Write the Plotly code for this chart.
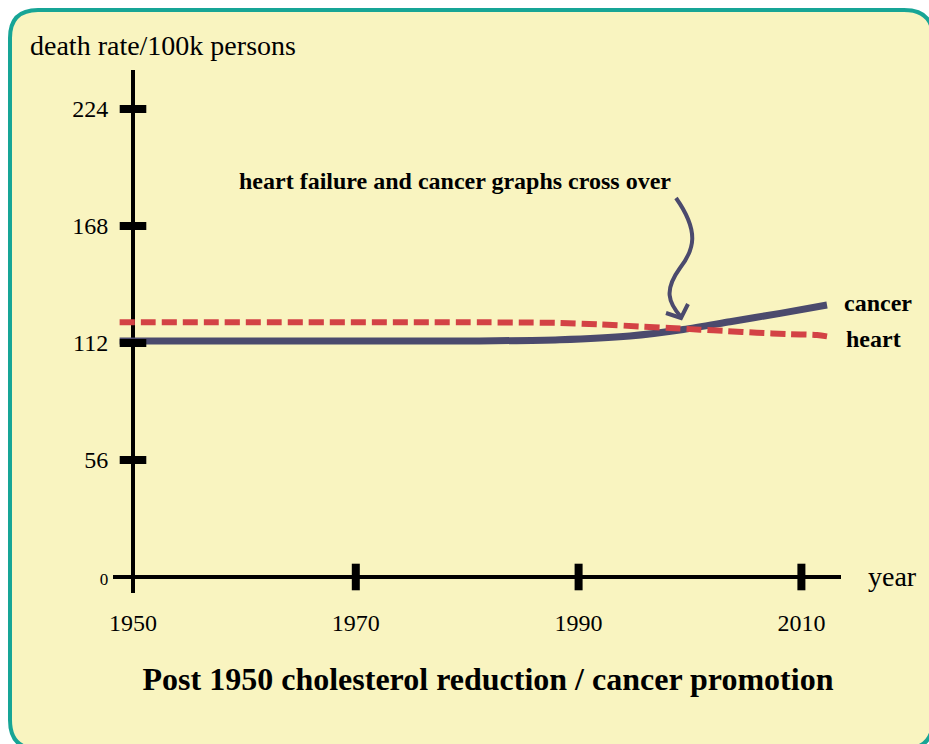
"""
Death rate per 100k persons since 1950: heart failure vs cancer.
"""

import plotly.graph_objects as go

W, H = 929, 744

# data
years_cancer = [1948.8, 1981.1, 1988.3, 1994.6, 1999.4, 2003.6, 2008.1, 2012.3]
cancer = [113.0, 113.0, 113.6, 115.4, 118.5, 122.2, 126.2, 130.2]

years_heart = [1948.8, 1981.1, 1988.3, 1991.9, 1995.5, 1998.2, 2000.9, 2003.3, 2006.0, 2008.7, 2011.4, 2012.5]
heart = [121.9, 121.9, 121.6, 120.9, 119.9, 119.2, 118.4, 117.7, 116.9, 116.3, 115.8, 115.0]

y_ticks = [0, 56, 112, 168, 224]
x_ticks = [1950, 1970, 1990, 2010]

INK = "#4b4a6d"
RED = "#d34245"
BG = "#f9f4c0"
TEAL = "#17a596"
SERIF = "Liberation Serif"

# scale of the drawing in pixels: 1950 at x=133, 0 at y=577
PX_YEAR = 11.14
PX_UNIT = 2.0893
X0_PX, Y0_PX = 133, 577


def px(x):
    return x / W


def py(y):
    return 1 - y / H


x_range = [1950 - X0_PX / PX_YEAR, 1950 + (W - X0_PX) / PX_YEAR]
y_range = [-(H - Y0_PX) / PX_UNIT, Y0_PX / PX_UNIT]

fig = go.Figure()

fig.add_trace(go.Scatter(
    x=years_cancer, y=cancer, mode="lines", name="cancer",
    line=dict(color=INK, width=7, shape="spline", smoothing=0.8),
))
fig.add_trace(go.Scatter(
    x=years_heart, y=heart, mode="lines", name="heart",
    line=dict(color=RED, width=6, dash="15px,6px", shape="spline", smoothing=0.8),
))

# chunky tick bars across the axes
fig.add_trace(go.Scatter(
    x=[x_ticks[0]] * (len(y_ticks) - 1), y=y_ticks[1:], mode="markers",
    marker=dict(symbol="line-ew", size=19, line=dict(width=8, color="black")),
    cliponaxis=False,
))
fig.add_trace(go.Scatter(
    x=x_ticks[1:], y=[y_ticks[0]] * (len(x_ticks) - 1), mode="markers",
    marker=dict(symbol="line-ns", size=19, line=dict(width=8, color="black")),
    cliponaxis=False,
))

# end labels
fig.add_annotation(x=years_cancer[-1], y=cancer[-1], text="<b>cancer</b>", showarrow=False,
                   xanchor="left", xshift=15, yshift=2, font=dict(size=24, color="black"))
fig.add_annotation(x=years_heart[-1], y=heart[-1], text="<b>heart</b>", showarrow=False,
                   xanchor="left", xshift=15, yshift=-2, font=dict(size=24, color="black"))

fig.add_annotation(xref="paper", yref="paper", x=px(455), y=py(181), xanchor="center", yanchor="middle",
                   text="<b>heart failure and cancer graphs cross over</b>", showarrow=False,
                   font=dict(size=24, color="black"))
fig.add_annotation(xref="paper", yref="paper", x=px(28), y=py(46), xanchor="left", yanchor="middle",
                   text="death rate/100k persons", showarrow=False,
                   font=dict(size=28, color="black"))
fig.add_annotation(xref="paper", yref="paper", x=px(866), y=py(576), xanchor="left", yanchor="middle",
                   text="year", showarrow=False, font=dict(size=28, color="black"))

# background panel, axis lines, wavy arrow
panel = (f"M {px(10)},{py(38)} Q {px(10)},{py(10)} {px(38)},{py(10)} L {px(904)},{py(10)} "
         f"Q {px(933)},{py(10)} {px(933)},{py(38)} L {px(933)},{py(720)} "
         f"Q {px(933)},{py(749)} {px(904)},{py(749)} L {px(38)},{py(749)} "
         f"Q {px(10)},{py(749)} {px(10)},{py(720)} Z")
arrow = (f"M {px(676)},{py(198)} C {px(700)},{py(232)} {px(694)},{py(250)} {px(680)},{py(268)} "
         f"C {px(664)},{py(290)} {px(668)},{py(302)} {px(681)},{py(317)}")
head = f"M {px(666)},{py(313)} L {px(681)},{py(318)} L {px(688)},{py(304)}"

fig.update_layout(shapes=[
    dict(type="path", xref="paper", yref="paper", path=panel, fillcolor=BG,
         line=dict(color=TEAL, width=4), layer="below"),
    dict(type="line", xref="paper", yref="paper", x0=px(X0_PX), x1=px(X0_PX), y0=py(70), y1=py(593),
         line=dict(color="black", width=4), layer="below"),
    dict(type="line", xref="paper", yref="paper", x0=px(113), x1=px(841), y0=py(Y0_PX), y1=py(Y0_PX),
         line=dict(color="black", width=4), layer="below"),
    dict(type="path", xref="paper", yref="paper", path=arrow, line=dict(color=INK, width=4)),
    dict(type="path", xref="paper", yref="paper", path=head, line=dict(color=INK, width=4)),
])

y_text = [f"<span style='font-size:17px'>{v}</span>" if v == 0 else str(v) for v in y_ticks]

fig.update_layout(
    width=W, height=H,
    margin=dict(l=0, r=0, t=0, b=0),
    paper_bgcolor="white",
    plot_bgcolor="rgba(0,0,0,0)",
    showlegend=False,
    hovermode=False,
    font=dict(family=SERIF, color="black"),
    title=dict(text="<b>Post 1950 cholesterol reduction / cancer promotion</b>",
               x=px(488), y=py(679), xanchor="center", yanchor="middle",
               font=dict(size=32, color="black")),
    xaxis=dict(range=x_range, anchor="free", position=py(Y0_PX), tickvals=x_ticks,
               ticks="outside", ticklen=24, tickcolor="rgba(0,0,0,0)",
               showline=False, showgrid=False, zeroline=False,
               tickfont=dict(size=24, family=SERIF, color="black")),
    yaxis=dict(range=y_range, anchor="free", position=px(X0_PX), tickvals=y_ticks, ticktext=y_text,
               ticks="outside", ticklen=20, tickcolor="rgba(0,0,0,0)",
               showline=False, showgrid=False, zeroline=False,
               tickfont=dict(size=24, family=SERIF, color="black")),
)

# drop the page's default body margin so the figure fills the window exactly
fig.write_html("out.html", config={"displayModeBar": False},
               post_script="document.body.style.margin = '0';")
